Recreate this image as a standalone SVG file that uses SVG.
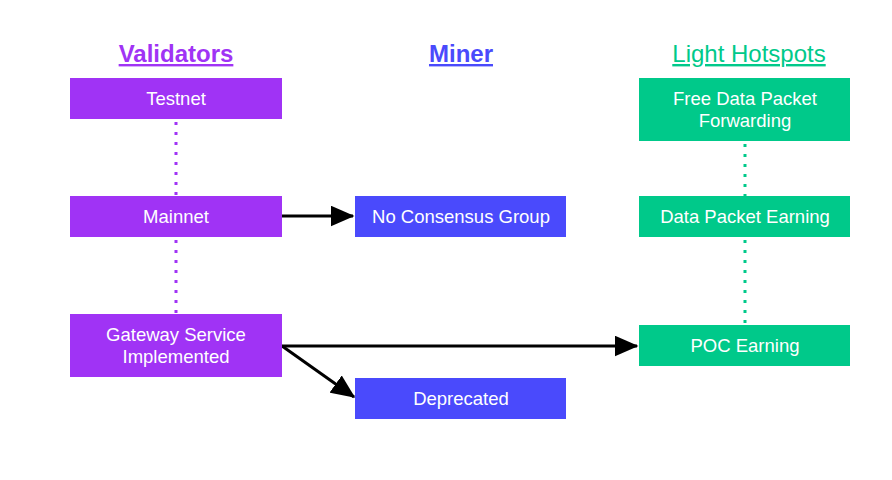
<svg xmlns="http://www.w3.org/2000/svg" width="892" height="480" viewBox="0 0 892 480">
<style>
text{font-family:"Liberation Sans",Arial,sans-serif;}
.lbl{fill:#ffffff;font-size:18.5px;text-anchor:middle;}
.ttl{font-size:24px;text-anchor:middle;text-decoration:underline;}
.v{fill:#a033f5;}
.m{fill:#4a4afc;}
.l{fill:#00c98a;}
.arr{stroke:#000;stroke-width:3;fill:none;marker-end:url(#ah);}
.dot{stroke-width:3;stroke-dasharray:3 7;fill:none;}
</style>
<defs>
<marker id="ah" markerWidth="8" markerHeight="7" refX="7.5" refY="3.5" orient="auto" markerUnits="strokeWidth">
<path d="M0,0 L8,3.5 L0,7 z" fill="#000"/>
</marker>
</defs>
<rect width="892" height="480" fill="#ffffff"/>
<g id="titles">
<text class="ttl" x="176" y="62" fill="#a033f5" font-weight="bold">Validators</text>
<text class="ttl" x="461" y="62" fill="#4a4afc" font-weight="bold">Miner</text>
<text class="ttl" x="749" y="62" fill="#00c98a">Light Hotspots</text>
</g>
<g id="connectors">
<line class="dot" x1="176" y1="122" x2="176" y2="196" stroke="#a033f5"/>
<line class="dot" x1="176" y1="240" x2="176" y2="314" stroke="#a033f5"/>
<line class="dot" x1="745" y1="144" x2="745" y2="196" stroke="#00c98a"/>
<line class="dot" x1="745" y1="240" x2="745" y2="325" stroke="#00c98a"/>
<line class="arr" x1="282" y1="216" x2="353" y2="216"/>
<line class="arr" x1="282" y1="346" x2="637" y2="346"/>
<line class="arr" x1="282" y1="346" x2="354" y2="397"/>
</g>
<g id="testnet"><rect class="v" x="70" y="78" width="212" height="41"/><text class="lbl" x="176" y="105">Testnet</text></g>
<g id="mainnet"><rect class="v" x="70" y="196" width="212" height="41"/><text class="lbl" x="176" y="223">Mainnet</text></g>
<g id="gateway"><rect class="v" x="70" y="314" width="212" height="63"/><text class="lbl" x="176" y="341">Gateway Service</text><text class="lbl" x="176" y="363">Implemented</text></g>
<g id="noconsensus"><rect class="m" x="355" y="196" width="211" height="41"/><text class="lbl" x="461" y="223">No Consensus Group</text></g>
<g id="deprecated"><rect class="m" x="355" y="378" width="211" height="41"/><text class="lbl" x="461" y="405">Deprecated</text></g>
<g id="freedata"><rect class="l" x="639" y="78" width="211" height="63"/><text class="lbl" x="745" y="105">Free Data Packet</text><text class="lbl" x="745" y="127">Forwarding</text></g>
<g id="dataearning"><rect class="l" x="639" y="196" width="211" height="41"/><text class="lbl" x="745" y="223">Data Packet Earning</text></g>
<g id="poc"><rect class="l" x="639" y="325" width="211" height="41"/><text class="lbl" x="745" y="352">POC Earning</text></g>
</svg>
